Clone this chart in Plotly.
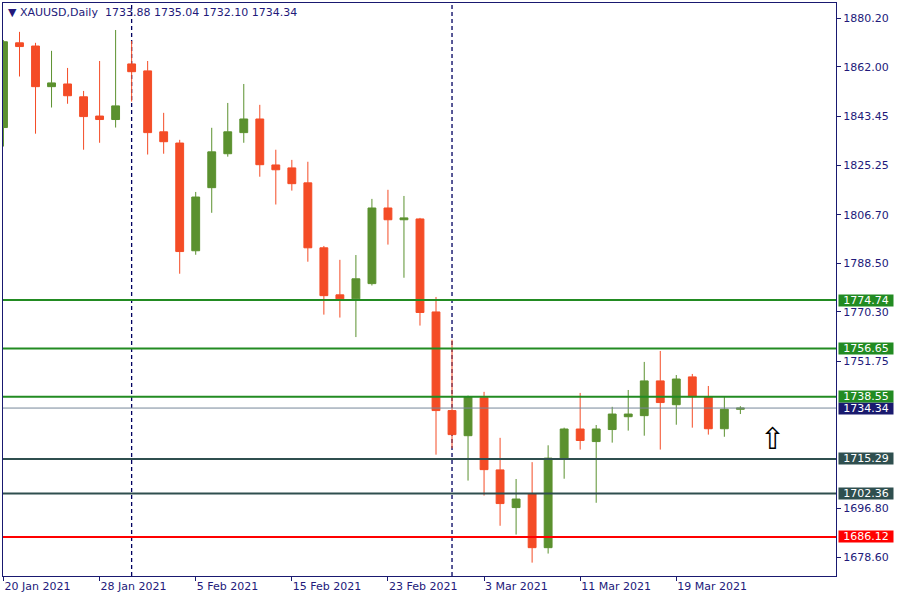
import plotly.graph_objects as go

dates = ["2021-01-20","2021-01-21","2021-01-22","2021-01-25","2021-01-26","2021-01-27","2021-01-28","2021-01-29",
         "2021-02-01","2021-02-02","2021-02-03","2021-02-04","2021-02-05","2021-02-08","2021-02-09","2021-02-10",
         "2021-02-11","2021-02-12","2021-02-15","2021-02-16","2021-02-17","2021-02-18","2021-02-19","2021-02-22",
         "2021-02-23","2021-02-24","2021-02-25","2021-02-26","2021-03-01","2021-03-02","2021-03-03","2021-03-04",
         "2021-03-05","2021-03-08","2021-03-09","2021-03-10","2021-03-11","2021-03-12","2021-03-15","2021-03-16",
         "2021-03-17","2021-03-18","2021-03-19","2021-03-22","2021-03-23","2021-03-24","2021-03-25"]

open_ = [1839.3,1871.0,1869.8,1854.6,1855.6,1850.8,1843.6,1842.3,
         1863.1,1860.5,1837.7,1833.5,1793.2,1816.8,1829.5,1837.4,
         1842.5,1825.3,1824.2,1818.6,1794.3,1776.7,1775.2,1780.9,
         1809.2,1804.8,1805.1,1770.3,1733.4,1724.0,1738.2,1711.2,
         1697.1,1702.3,1682.1,1715.4,1726.5,1721.8,1726.3,1731.1,
         1731.5,1744.5,1735.6,1746.0,1738.5,1726.6,1733.88]
high = [1872.0,1875.1,1871.0,1868.0,1861.6,1853.0,1864.2,1875.8,
        1871.7,1864.2,1844.8,1834.7,1815.2,1839.2,1848.5,1855.6,
        1847.8,1831.0,1827.2,1826.5,1795.0,1789.8,1791.6,1812.6,
        1816.0,1813.7,1805.5,1775.9,1759.9,1739.0,1740.4,1723.2,
        1707.8,1714.1,1720.4,1727.0,1740.0,1728.0,1734.8,1741.1,
        1751.6,1755.7,1746.7,1747.1,1742.6,1738.5,1735.04]
low = [1832.2,1858.4,1837.0,1846.8,1848.2,1831.0,1833.6,1839.3,
       1849.0,1829.2,1829.5,1784.6,1791.7,1807.4,1828.4,1833.6,
       1820.9,1810.5,1815.7,1789.1,1769.3,1768.2,1760.9,1780.2,
       1795.5,1783.1,1765.2,1716.9,1719.3,1707.2,1701.6,1690.3,
       1687.0,1676.5,1679.9,1707.9,1718.8,1698.9,1721.4,1725.9,
       1724.0,1718.8,1728.1,1727.0,1724.4,1723.6,1732.10]
close = [1871.4,1869.6,1854.6,1856.0,1851.2,1843.4,1842.3,1847.4,
         1860.2,1837.4,1834.0,1792.9,1813.3,1830.2,1837.7,1842.5,
         1825.4,1823.5,1818.3,1794.3,1776.4,1775.2,1782.7,1809.2,
         1804.8,1805.5,1770.1,1733.4,1724.4,1738.6,1711.3,1698.6,
         1700.3,1682.1,1715.6,1726.5,1722.2,1726.5,1732.1,1732.1,
         1744.5,1736.4,1745.2,1738.6,1726.6,1733.9,1734.34]

x_tick_dates = ["2021-01-20","2021-01-28","2021-02-05","2021-02-15","2021-02-23","2021-03-03","2021-03-11","2021-03-19"]
x_tick_labels = ["20 Jan 2021","28 Jan 2021","5 Feb 2021","15 Feb 2021","23 Feb 2021","3 Mar 2021","11 Mar 2021","19 Mar 2021"]
y_tick_values = [1880.20,1862.00,1843.45,1825.25,1806.70,1788.50,1770.30,1751.75,1696.80,1678.60]

separator_dates = ["2021-02-01","2021-03-01"]

level_values = [1774.74,1756.65,1738.55,1715.29,1702.36,1686.12]
level_colors = ["#228B22","#228B22","#228B22","#2F4F4F","#2F4F4F","#FF0000"]
current_price = 1734.34

arrow_x = 48
arrow_price = 1723.0

header = "▼ XAUUSD,Daily  1733.88 1735.04 1732.10 1734.34"

NAVY = "#191970"
TEXT = "#22197A"
FONT = "DejaVu Sans"

fig = go.Figure()
fig.add_trace(go.Candlestick(
    x=dates, open=open_, high=high, low=low, close=close,
    increasing=dict(line=dict(color="#5B912F", width=1), fillcolor="#5B912F"),
    decreasing=dict(line=dict(color="#F44C26", width=1), fillcolor="#F44C26"),
    whiskerwidth=0, hoverinfo="skip", showlegend=False,
))

shapes = []
for d in separator_dates:
    shapes.append(dict(type="line", xref="x", yref="paper", x0=d, x1=d, y0=0, y1=1,
                       line=dict(color="#000060", width=1.3, dash="4px,3px"), layer="below"))
shapes.append(dict(type="line", xref="paper", yref="y", x0=0, x1=1, y0=current_price, y1=current_price,
                   line=dict(color="#778899", width=1)))
for v, c in zip(level_values, level_colors):
    shapes.append(dict(type="line", xref="paper", yref="y", x0=0, x1=1, y0=v, y1=v,
                       line=dict(color=c, width=2)))

annotations = []
annotations.append(dict(xref="paper", yref="y", x=1, y=current_price, xanchor="left", yanchor="middle",
                        xshift=2, text=f"{current_price:.2f}", showarrow=False, bgcolor="#1A1A6E",
                        font=dict(family=FONT, size=11, color="white"), width=54, height=11, borderpad=0))
for v, c in zip(level_values, level_colors):
    annotations.append(dict(xref="paper", yref="y", x=1, y=v, xanchor="left", yanchor="middle",
                            xshift=2, text=f"{v:.2f}", showarrow=False, bgcolor=c,
                            font=dict(family=FONT, size=11, color="white"), width=54, height=11, borderpad=0))
annotations.append(dict(xref="paper", yref="paper", x=0, y=1, xanchor="left", yanchor="top",
                        xshift=3, yshift=-1, text=header, showarrow=False,
                        font=dict(family=FONT, size=11, color=TEXT)))
annotations.append(dict(xref="x", yref="y", x=arrow_x, y=arrow_price, text="⇧", showarrow=False,
                        font=dict(family=FONT, size=30, color="black")))

fig.update_layout(
    width=900, height=600,
    margin=dict(l=3, r=64, t=3, b=24),
    paper_bgcolor="white", plot_bgcolor="white",
    boxgap=0.3,
    shapes=shapes, annotations=annotations,
    font=dict(family=FONT, size=11, color=TEXT),
    xaxis=dict(type="category", range=[-0.03, 51.97], rangeslider=dict(visible=False),
               tickmode="array", tickvals=x_tick_dates, ticktext=x_tick_labels,
               ticks="outside", ticklen=4, tickcolor=NAVY, ticklabelposition="outside right",
               showgrid=False, zeroline=False, showline=True, linecolor=NAVY, linewidth=1, mirror=True,
               tickfont=dict(family=FONT, size=11, color=TEXT), fixedrange=True, automargin=False),
    yaxis=dict(side="right", range=[1671.5, 1885.9], tickmode="array", tickvals=y_tick_values,
               ticktext=[f"{v:.2f}" for v in y_tick_values],
               ticks="outside", ticklen=4, tickcolor=NAVY,
               showgrid=False, zeroline=False, showline=True, linecolor=NAVY, linewidth=1, mirror=True,
               tickfont=dict(family=FONT, size=11, color=TEXT), fixedrange=True, automargin=False),
)

fig.write_html("out.html", config={"displayModeBar": False, "staticPlot": True},
               post_script="document.body.style.margin='0px';")
